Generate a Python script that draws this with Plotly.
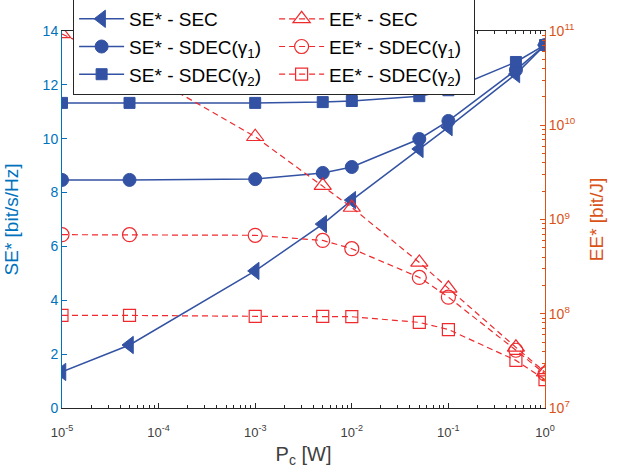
import plotly.graph_objects as go

pc = [1e-5, 5e-5, 1e-3, 5e-3, 1e-2, 5e-2, 1e-1, 5e-1, 1.0]

se_sec = [1.34, 2.34, 5.09, 6.83, 7.72, 9.62, 10.43, 12.40, 13.48]
se_sdec1 = [8.47, 8.47, 8.50, 8.73, 8.95, 9.99, 10.66, 12.55, 13.48]
se_sdec2 = [11.33, 11.33, 11.33, 11.36, 11.40, 11.58, 11.80, 12.85, 13.48]

ee_sec = [9.3e10, 4.4e10, 7.55e9, 2.29e9, 1.34e9, 3.5e8, 1.86e8, 4.4e7, 2.4e7]
ee_sdec1 = [6.9e8, 6.9e8, 6.8e8, 6.0e8, 4.9e8, 2.43e8, 1.5e8, 4.1e7, 2.3e7]
ee_sdec2 = [9.6e7, 9.6e7, 9.4e7, 9.4e7, 9.3e7, 8.1e7, 6.8e7, 3.2e7, 2.0e7]

x_tickvals = [1e-5, 1e-4, 1e-3, 1e-2, 1e-1, 1]
x_ticktext = ["10<sup>-5</sup>", "10<sup>-4</sup>", "10<sup>-3</sup>", "10<sup>-2</sup>", "10<sup>-1</sup>", "10<sup>0</sup>"]
y2_tickvals = [1e7, 1e8, 1e9, 1e10, 1e11]
y2_ticktext = ["10<sup>7</sup>", "10<sup>8</sup>", "10<sup>9</sup>", "10<sup>10</sup>", "10<sup>11</sup>"]

# minor log tick positions (2..9 within each decade) – axis decoration only
x_minor = [k * 10.0 ** e for e in range(-5, 0) for k in range(2, 10)]
y2_minor = [k * 10.0 ** e for e in range(7, 11) for k in range(2, 10)]

BLUE = "#3352A3"
RED = "#EE2A2E"
AX_BLUE = "#0072BD"
AX_ORANGE = "#D95319"
GREY = "#262626"
FONT = "Liberation Sans, Arial, sans-serif"

fig = go.Figure()

def se_trace(y, sym, size, name):
    return go.Scatter(x=pc, y=y, name=name, mode="lines+markers",
                      line=dict(color=BLUE, width=1.5),
                      marker=dict(symbol=sym, size=size, color=BLUE,
                                  line=dict(color=BLUE, width=1)),
                      yaxis="y")

def ee_trace(y, sym, size, name):
    return go.Scatter(x=pc, y=y, name=name, mode="lines+markers",
                      line=dict(color=RED, width=1.2, dash="6px,4px"),
                      marker=dict(symbol=sym, size=size, color=RED,
                                  line=dict(color=RED, width=1.2)),
                      yaxis="y2")

fig.add_trace(se_trace(se_sec, "triangle-left", 15, "SE* - SEC<sub> </sub>"))
fig.add_trace(ee_trace(ee_sec, "triangle-up-open", 15, "EE* - SEC<sub> </sub>"))
fig.add_trace(se_trace(se_sdec1, "circle", 13, "SE* - SDEC(γ<sub>1</sub>)"))
fig.add_trace(ee_trace(ee_sdec1, "circle-open", 14, "EE* - SDEC(γ<sub>1</sub>)"))
fig.add_trace(se_trace(se_sdec2, "square", 11, "SE* - SDEC(γ<sub>2</sub>)"))
fig.add_trace(ee_trace(ee_sdec2, "square-open", 12, "EE* - SDEC(γ<sub>2</sub>)"))

fig.update_layout(
    width=624, height=473,
    margin=dict(l=62, r=79, t=31, b=65, autoexpand=False),
    paper_bgcolor="white", plot_bgcolor="white",
    font=dict(family=FONT, size=13, color=GREY),
    showlegend=True,
    legend=dict(orientation="h", x=0.023, y=1.085, xanchor="left", yanchor="top",
                bgcolor="white", bordercolor=GREY, borderwidth=1,
                font=dict(size=19, color="black", family=FONT),
                entrywidth=140, itemwidth=45, tracegroupgap=0),
    xaxis=dict(type="log", range=[-5, 0], tickvals=x_tickvals, ticktext=x_ticktext,
               ticks="inside", ticklen=5, tickcolor=GREY, showline=True, linecolor=GREY,
               linewidth=1, mirror="ticks", showgrid=False, zeroline=False,
               ticklabelstandoff=12,
               tickfont=dict(size=13, color="#404040"),
               minor=dict(tickvals=x_minor, ticks="inside", ticklen=3, tickcolor=GREY, showgrid=False),
               title=dict(text="P<sub>c</sub> [W]", font=dict(size=20, color="#404040"), standoff=8)),
    yaxis=dict(range=[0, 14], tickvals=[0, 2, 4, 6, 8, 10, 12, 14], ticks="inside", ticklen=5,
               tickcolor=AX_BLUE, showline=True, linecolor=AX_BLUE, linewidth=1,
               showgrid=False, zeroline=False, tickfont=dict(size=14, color=AX_BLUE),
               title=dict(text="SE* [bit/s/Hz]", font=dict(size=19, color=AX_BLUE), standoff=18)),
    yaxis2=dict(type="log", range=[7, 11], overlaying="y", side="right",
                tickvals=y2_tickvals, ticktext=y2_ticktext, ticks="inside", ticklen=5,
                tickcolor=AX_ORANGE, showline=True, linecolor=AX_ORANGE, linewidth=1,
                showgrid=False, zeroline=False, tickfont=dict(size=14, color=AX_ORANGE),
                minor=dict(tickvals=y2_minor, ticks="inside", ticklen=3, tickcolor=AX_ORANGE, showgrid=False),
                title=dict(text="EE* [bit/J]", font=dict(size=19, color=AX_ORANGE), standoff=14)),
)

fig.write_html("out.html")
